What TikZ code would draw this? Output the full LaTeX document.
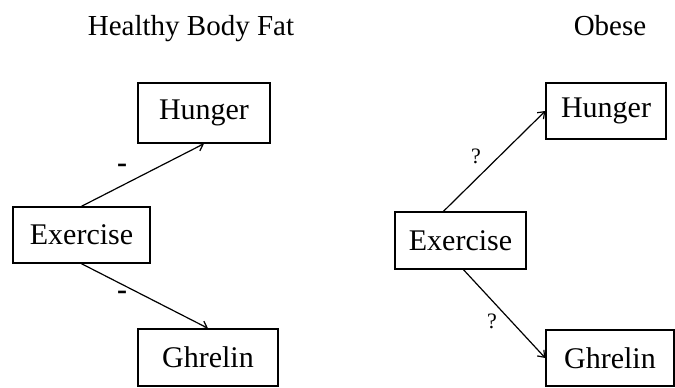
\documentclass[tikz,border=0pt]{standalone}
\usepackage{fontspec}
\setmainfont{Liberation Serif}
\usetikzlibrary{arrows.meta}
\begin{document}
\begin{tikzpicture}[x=1pt, y=-1pt,
    box/.style={draw, line width=1.4pt, inner sep=0pt, font=\fontsize{30}{36}\selectfont},
    link/.style={-{Straight Barb[length=6pt, width=9pt]}, line width=1.2pt},
    sign/.style={inner sep=0pt, font=\fontsize{30}{34}\selectfont\bfseries},
    ask/.style={inner sep=0pt, font=\fontsize{22}{26}\selectfont}]
    \useasboundingbox (0,0) rectangle (675,388);
    \node[anchor=base, font=\fontsize{29}{34}\selectfont] (titleA) at (191,35) {Healthy Body Fat};
    \node[anchor=base, font=\fontsize{29}{34}\selectfont] (titleB) at (610,35) {Obese};
    % healthy body fat
    \node[box, minimum width=132pt, minimum height=60pt] (hungerA) at (204,113) {Hunger};
    \node[box, minimum width=137pt, minimum height=56pt] (exerciseA) at (81.5,235) {Exercise};
    \node[box, minimum width=140pt, minimum height=57pt] (ghrelinA) at (208,357.5) {Ghrelin};
    \draw[link] (exerciseA.north) -- (hungerA.south);
    \draw[link] (exerciseA.south) -- (ghrelinA.north);
    \node[sign] (signA) at (122,168) {-};
    \node[sign] (signB) at (122,295) {-};
    % obese
    \node[box, minimum width=120pt, minimum height=56pt] (hungerB) at (606,111) {Hunger};
    \node[box, minimum width=131pt, minimum height=57pt] (exerciseB) at (460.5,240.5) {Exercise};
    \node[box, minimum width=128pt, minimum height=56pt] (ghrelinB) at (610,358) {Ghrelin};
    \draw[link] ([xshift=-17pt]exerciseB.north) -- (hungerB.west);
    \draw[link] ([xshift=3pt]exerciseB.south) -- (ghrelinB.west);
    \node[ask] (askA) at (476,156) {?};
    \node[ask] (askB) at (492,321) {?};
\end{tikzpicture}
\end{document}
